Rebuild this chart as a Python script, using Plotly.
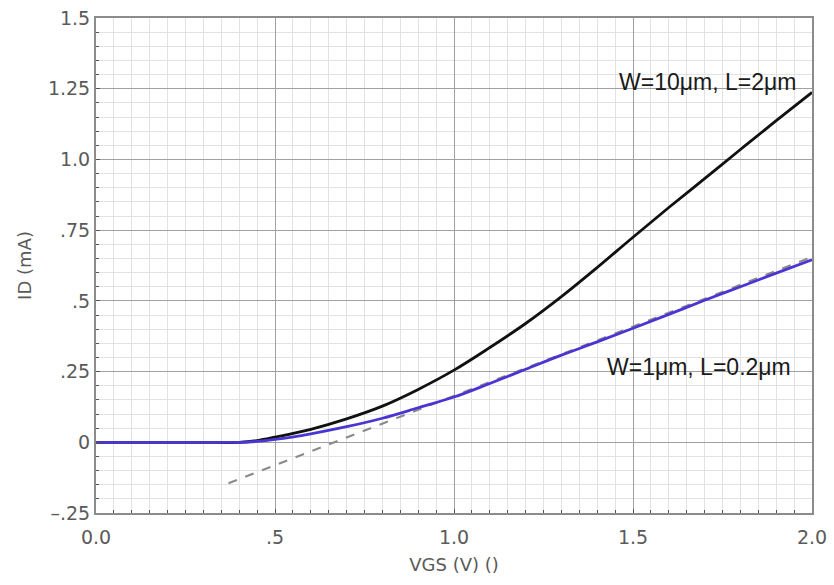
import plotly.graph_objects as go

vgs = [0.0, 0.1, 0.2, 0.3, 0.4, 0.45, 0.5, 0.6, 0.7, 0.8, 0.9, 1.0, 1.1, 1.2, 1.3, 1.4, 1.5, 1.6, 1.7, 1.8, 1.9, 2.0]
id_long = [0.0, 0.0, 0.0, 0.0, 0.0, 0.006, 0.018, 0.046, 0.083, 0.128, 0.187, 0.255, 0.335, 0.42, 0.515, 0.618, 0.725, 0.83, 0.932, 1.035, 1.137, 1.237]
id_short = [0.0, 0.0, 0.0, 0.0, 0.0, 0.003, 0.01, 0.03, 0.055, 0.085, 0.122, 0.16, 0.208, 0.258, 0.308, 0.355, 0.403, 0.452, 0.502, 0.55, 0.598, 0.645]
tangent_x = [0.37, 2.0]
tangent_y = [-0.145, 0.655]

x_tickvals = [0.0, 0.5, 1.0, 1.5, 2.0]
x_ticktext = ["0.0", ".5", "1.0", "1.5", "2.0"]
y_tickvals = [-0.25, 0.0, 0.25, 0.5, 0.75, 1.0, 1.25, 1.5]
y_ticktext = ["\u2013.25", "0", ".25", ".5", ".75", "1.0", "1.25", "1.5"]

fig = go.Figure()
fig.add_trace(go.Scatter(x=tangent_x, y=tangent_y, mode="lines",
                         line=dict(color="#8a8a8a", width=2, dash="dash"), showlegend=False))
fig.add_trace(go.Scatter(x=vgs, y=id_long, mode="lines", line=dict(color="#111111", width=2.8, shape="spline"),
                         showlegend=False))
fig.add_trace(go.Scatter(x=vgs, y=id_short, mode="lines", line=dict(color="#4b35d2", width=2.8, shape="spline"),
                         showlegend=False))

fig.add_annotation(x=2.0, y=1.275, xref="x", yref="y", text="W=10\u03bcm, L=2\u03bcm", showarrow=False,
                   xanchor="right", yanchor="middle", xshift=-14,
                   font=dict(family="Liberation Sans, Arial", size=23, color="#1a1a1a"))
fig.add_annotation(x=2.0, y=0.265, xref="x", yref="y", text="W=1\u03bcm, L=0.2\u03bcm", showarrow=False,
                   xanchor="right", yanchor="middle", xshift=-19,
                   font=dict(family="Liberation Sans, Arial", size=23, color="#1a1a1a"))

tick_font = dict(family="DejaVu Sans, Verdana", size=19, color="#5a5a5a")
title_font = dict(family="DejaVu Sans, Verdana", size=18, color="#5a5a5a")

axis_common = dict(showline=True, linecolor="#8c8c8c", linewidth=2, mirror=True,
                   gridcolor="#a0a0a0", gridwidth=1, zeroline=False, automargin=False,
                   ticks="inside", ticklen=4, tickcolor="#555555",
                   tickfont=tick_font)

fig.update_xaxes(range=[0, 2], tickvals=x_tickvals, ticktext=x_ticktext, ticklabelstandoff=6,
                 minor=dict(dtick=0.05, tick0=0, showgrid=True, gridcolor="#e2e2e2", ticks="inside",
                            ticklen=3, tickcolor="#555555"),
                 title=dict(text="VGS (V) ()", font=title_font, standoff=12),
                 **axis_common)
fig.update_yaxes(range=[-0.25, 1.5], tickvals=y_tickvals, ticktext=y_ticktext,
                 minor=dict(dtick=0.05, tick0=0, showgrid=True, gridcolor="#e2e2e2", ticks="inside",
                            ticklen=3, tickcolor="#555555"),
                 title=dict(text="ID (mA)", font=title_font, standoff=12),
                 **axis_common)

fig.update_layout(width=834, height=585, margin=dict(l=96, r=22, t=18, b=72),
                  plot_bgcolor="white", paper_bgcolor="white")

fig.write_html("out.html")
